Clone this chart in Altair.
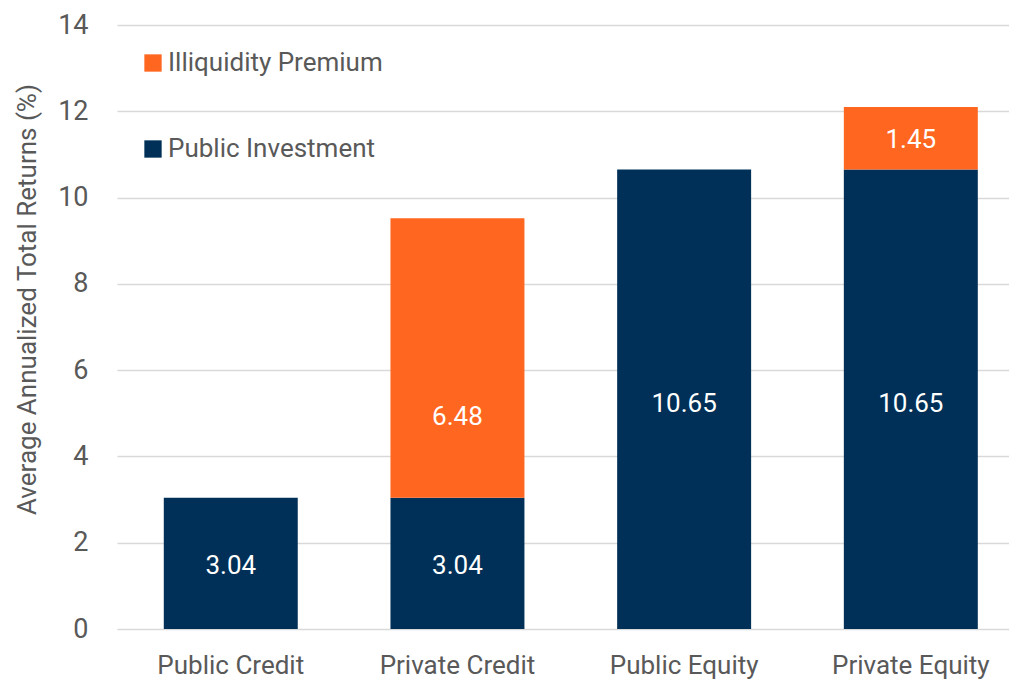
import altair as alt
import pandas as pd

categories = ["Public Credit", "Private Credit", "Public Equity", "Private Equity"]
public_values = [3.04, 3.04, 10.65, 10.65]
premium_values = [0.0, 6.48, 0.0, 1.45]
# label centre positions (axis units)
public_label_pos = [1.53, 1.53, 5.29, 5.29]
premium_label_pos = [None, 4.98, None, 11.4]

series_names = ["Illiquidity Premium", "Public Investment"]
series_colors = ["#FF6720", "#003057"]

rows = []
for i, c in enumerate(categories):
    rows.append({"cat": c, "series": "Public Investment", "value": public_values[i],
                 "order": 0, "label": f"{public_values[i]:.2f}", "lpos": public_label_pos[i]})
    rows.append({"cat": c, "series": "Illiquidity Premium", "value": premium_values[i],
                 "order": 1, "label": f"{premium_values[i]:.2f}" if premium_values[i] > 0 else "",
                 "lpos": premium_label_pos[i]})
df = pd.DataFrame(rows)

FONT = "Roboto"
GRAY = "#595959"
FS = 26

x = alt.X("cat:N", sort=categories, title=None,
          scale=alt.Scale(paddingInner=0.409, paddingOuter=0.172, align=0.6),
          axis=alt.Axis(labelAngle=0, labelFontSize=FS, labelColor=GRAY, labelFont=FONT,
                        ticks=False, domain=False, grid=False, labelPadding=23))

bars = alt.Chart(df).mark_bar().encode(
    x=x,
    y=alt.Y("value:Q", stack="zero",
            scale=alt.Scale(domain=[0, 14], nice=False),
            title="Average Annualized Total Returns (%)",
            axis=alt.Axis(values=list(range(0, 15, 2)), labelFontSize=27, labelColor=GRAY,
                          labelFont=FONT, titleFont=FONT, titleFontSize=26, titleColor=GRAY,
                          titleFontWeight="normal", ticks=False, domain=False,
                          labelPadding=29, titlePadding=17, titleY=274,
                          gridColor="#D9D9D9", gridWidth=1.5)),
    color=alt.Color("series:N",
                    scale=alt.Scale(domain=series_names, range=series_colors),
                    legend=alt.Legend(title=None, orient="none", legendX=23, legendY=25,
                                      direction="vertical", symbolType="square",
                                      symbolSize=300, symbolStrokeWidth=0,
                                      labelFontSize=FS, labelFont=FONT, labelColor=GRAY,
                                      labelLimit=400, labelOffset=2, rowPadding=60, padding=0)),
    order=alt.Order("order:Q"),
)

labels = alt.Chart(df).transform_filter("datum.label != ''").mark_text(
    color="white", fontSize=26, font=FONT, baseline="middle", align="center", dy=3
).encode(
    x=alt.X("cat:N", sort=categories),
    y=alt.Y("lpos:Q"),
    text="label:N",
)

chart = alt.layer(bars, labels).properties(
    width=892, height=604,
    autosize=alt.AutoSizeParams(type="none"),
    padding={"left": 109, "top": 17, "right": 0, "bottom": 50},
).configure(font=FONT).configure_view(stroke=None)

chart.save("out.html", embed_options={"renderer": "svg", "actions": False})
